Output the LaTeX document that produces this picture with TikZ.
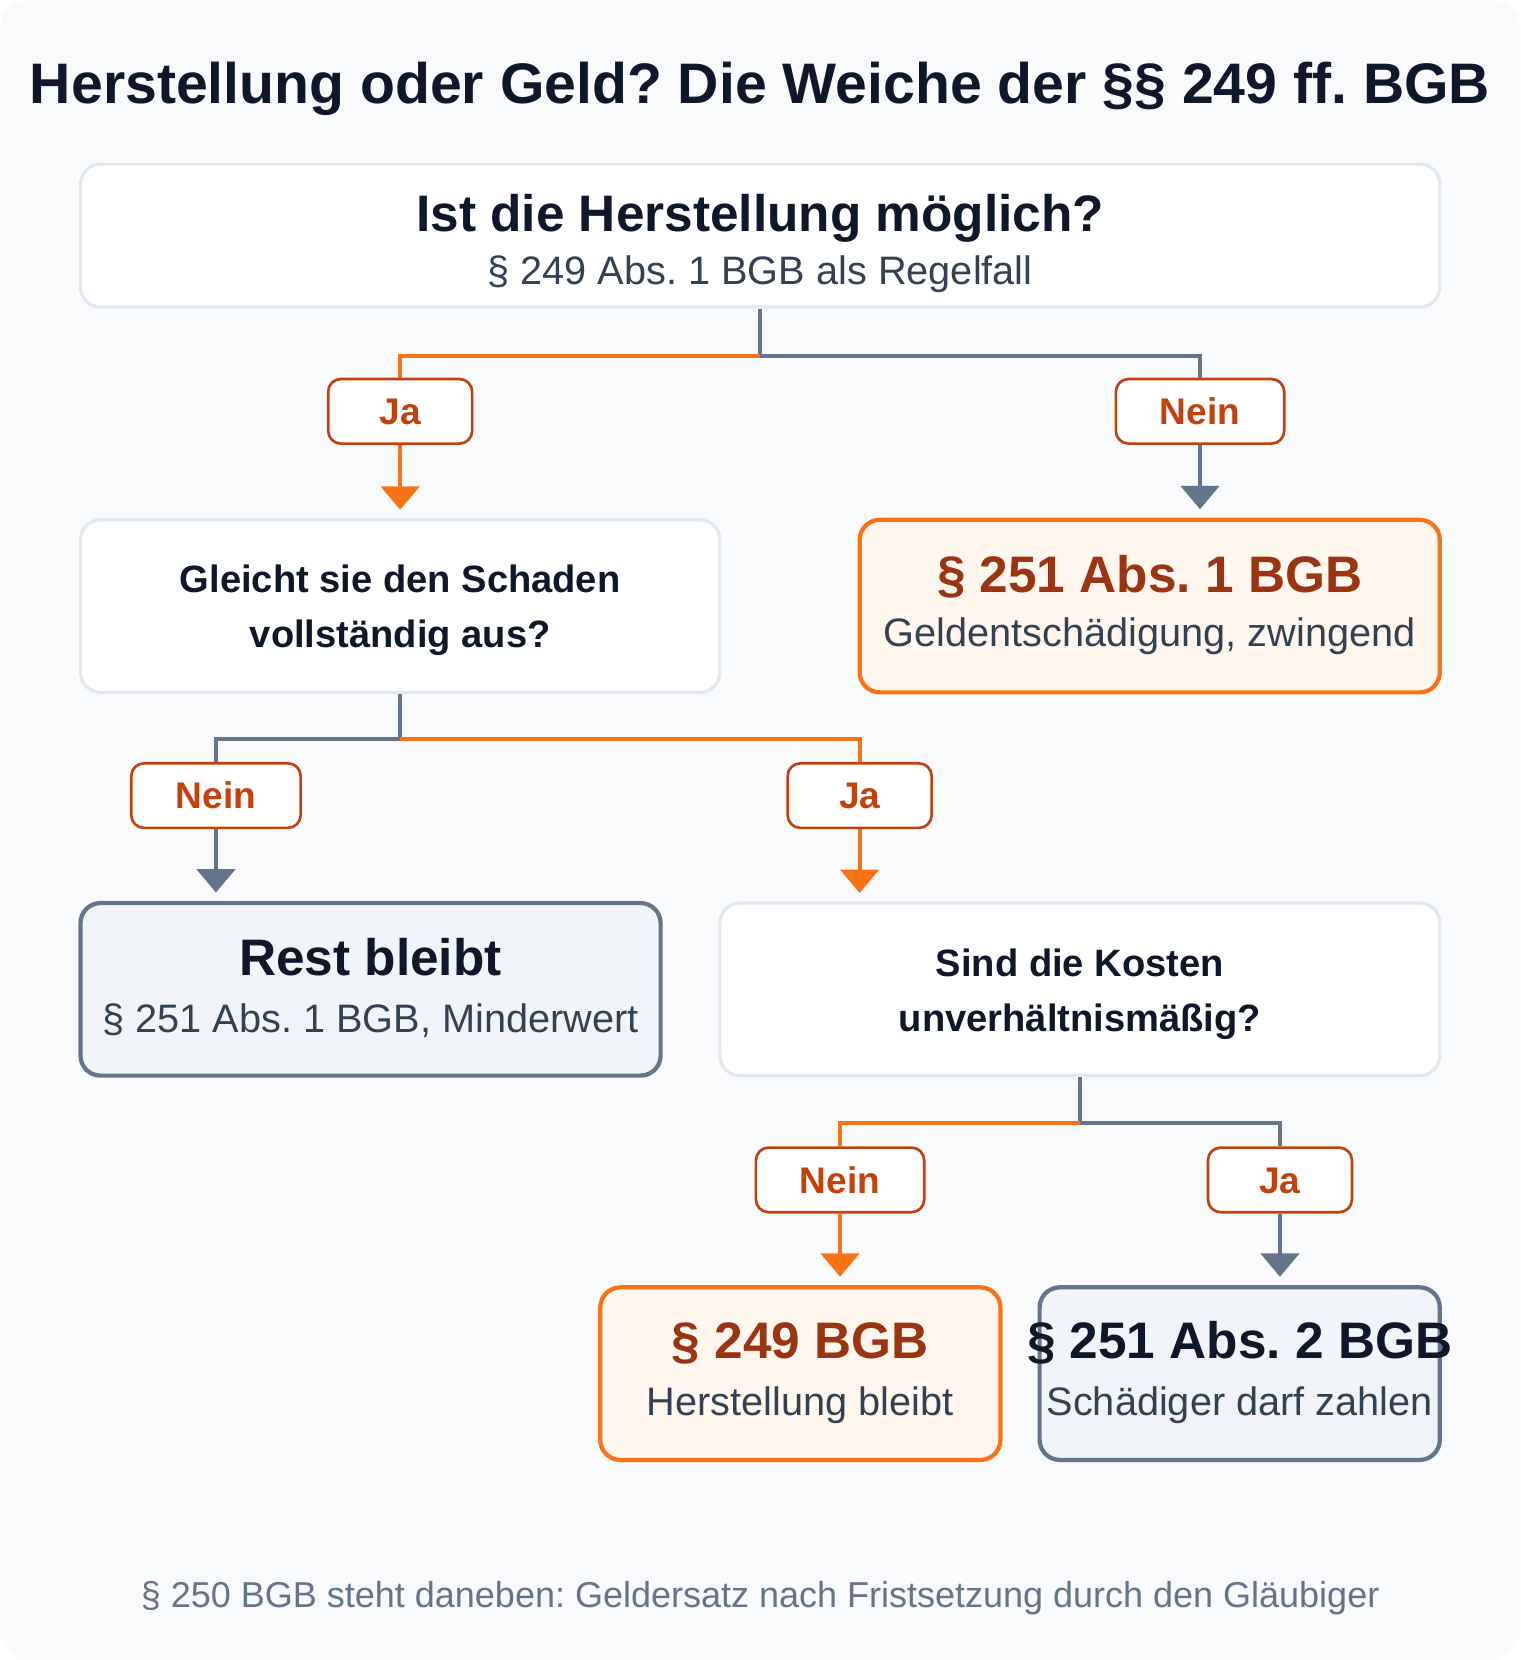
\documentclass[tikz,border=0pt]{standalone}
\usepackage{fontspec}
\setmainfont{Liberation Sans}
\usepackage[HTML]{xcolor}
\usepackage{tikz}
\usetikzlibrary{positioning, arrows.meta}
\definecolor{ink}{HTML}{0F172A}
\definecolor{slate}{HTML}{334155}
\definecolor{muted}{HTML}{64748B}
\definecolor{orng}{HTML}{F97316}
\definecolor{rust}{HTML}{C2410C}
\definecolor{brick}{HTML}{9A3412}
\definecolor{paleorng}{HTML}{FFF7ED}
\definecolor{palegray}{HTML}{F1F5F9}
\definecolor{rim}{HTML}{E2E8F0}
\definecolor{canvas}{HTML}{F8FAFC}
\newcommand{\fTitle}{\fontsize{54}{60}\selectfont\bfseries}
\newcommand{\fHead}{\fontsize{48.5}{56}\selectfont\bfseries}
\newcommand{\fQuest}{\fontsize{36}{44}\selectfont\bfseries}
\newcommand{\fSub}{\fontsize{37.5}{44}\selectfont}
\newcommand{\fTag}{\fontsize{35}{40}\selectfont\bfseries}
\newcommand{\fNote}{\fontsize{34}{40}\selectfont}
\frenchspacing

\begin{document}
\begin{tikzpicture}[x=1pt,y=-1pt,
  question/.style={draw=rim,line width=3pt,fill=white,rounded corners=19pt,inner sep=0pt,minimum height=163pt},
  goal/.style={draw=orng,line width=4pt,fill=paleorng,rounded corners=19pt,inner sep=0pt,minimum width=378pt,minimum height=163pt},
  fallback/.style={draw=muted,line width=4pt,fill=palegray,rounded corners=19pt,inner sep=0pt,minimum width=378pt,minimum height=163pt},
  tag/.style={draw=rust,line width=2.5pt,fill=white,rounded corners=12pt,text=rust,font=\fTag,inner sep=0pt,minimum height=61pt,text height=25pt,text depth=0pt},
  txt/.style={anchor=base,inner sep=0pt},
  grayline/.style={draw=muted,line width=4pt},
  orngline/.style={draw=orng,line width=4pt},
  arrowhd/.style={-{Triangle[width=36pt,length=22pt]},shorten >=8pt}]
\useasboundingbox (0,0) rectangle (1436,1568);
\fill[white] (0,0) rectangle (1436,1568);
\fill[canvas,rounded corners=28pt] (0,0) rectangle (1436,1568);

\node[txt,font=\fTitle,text=ink] (title) at (718,98) {Herstellung oder Geld? Die Weiche der §§ 249 ff. BGB};

\node[question,minimum width=1284pt,minimum height=135pt] (qHerst) at (718,222.5) {};
\node[txt,font=\fHead,text=ink] (qHerstT) at (718,219) {Ist die Herstellung möglich?};
\node[txt,font=\fSub,text=slate] (qHerstS) at (718,269) {§ 249 Abs. 1 BGB als Regelfall};

\node[tag,minimum width=136pt] (ja1) at (378,388.5) {Ja};
\node[tag,minimum width=159pt] (nein1) at (1133.5,388.5) {Nein};

\node[question,minimum width=604pt] (qSchad) at (378,572.5) {};
\node[txt,font=\fQuest,text=ink] (qSchadA) at (378,560) {Gleicht sie den Schaden};
\node[txt,font=\fQuest,text=ink] (qSchadB) at (378,612) {vollständig aus?};

\node[goal,minimum width=548pt] (resGeld) at (1086,572.5) {};
\node[txt,font=\fHead,text=brick] (resGeldT) at (1086,560) {§ 251 Abs. 1 BGB};
\node[txt,font=\fSub,text=slate] (resGeldS) at (1086,611) {Geldentschädigung, zwingend};

\node[tag,minimum width=160pt] (nein2) at (204,751.5) {Nein};
\node[tag,minimum width=136pt] (ja2) at (812,751.5) {Ja};

\node[fallback,minimum width=548pt] (resRest) at (350,934.5) {};
\node[txt,font=\fHead,text=ink] (resRestT) at (350,921) {Rest bleibt};
\node[txt,font=\fSub,text=slate] (resRestS) at (350,975) {§ 251 Abs. 1 BGB, Minderwert};

\node[question,minimum width=680pt] (qKost) at (1020,934.5) {};
\node[txt,font=\fQuest,text=ink] (qKostA) at (1020,922) {Sind die Kosten};
\node[txt,font=\fQuest,text=ink] (qKostB) at (1020,974) {unverhältnismäßig?};

\node[tag,minimum width=159pt] (nein3) at (793.5,1114.5) {Nein};
\node[tag,minimum width=136pt] (ja3) at (1209,1114.5) {Ja};

\node[goal] (resHerst) at (756,1297.5) {};
\node[txt,font=\fHead,text=brick] (resHerstT) at (756,1283) {§ 249 BGB};
\node[txt,font=\fSub,text=slate] (resHerstS) at (756,1337) {Herstellung bleibt};

\node[fallback] (resZahl) at (1171,1297.5) {};
\node[txt,font=\fHead,text=ink] (resZahlT) at (1171,1283) {§ 251 Abs. 2 BGB};
\node[txt,font=\fSub,text=slate] (resZahlS) at (1171,1337) {Schädiger darf zahlen};

\node[txt,font=\fNote,text=muted] (note) at (718,1518) {§ 250 BGB steht daneben: Geldersatz nach Fristsetzung durch den Gläubiger};

\coordinate (fork1) at (718,336);
\coordinate (fork2) at (378,698);
\coordinate (fork3) at (1020,1061);

\draw[grayline] (qHerst.south) -- (fork1) -| (nein1.north);
\draw[orngline] (fork1) -| (ja1.north);
\draw[orngline,arrowhd] (ja1.south) -- (ja1.south |- qSchad.north);
\draw[grayline,arrowhd] (nein1.south) -- (nein1.south |- resGeld.north);

\draw[grayline] (qSchad.south) -- (fork2) -| (nein2.north);
\draw[orngline] (fork2) -| (ja2.north);
\draw[grayline,arrowhd] (nein2.south) -- (nein2.south |- resRest.north);
\draw[orngline,arrowhd] (ja2.south) -- (ja2.south |- qKost.north);

\draw[grayline] (qKost.south) -- (fork3) -| (ja3.north);
\draw[orngline] (fork3) -| (nein3.north);
\draw[orngline,arrowhd] (nein3.south) -- (nein3.south |- resHerst.north);
\draw[grayline,arrowhd] (ja3.south) -- (ja3.south |- resZahl.north);
\end{tikzpicture}
\end{document}
